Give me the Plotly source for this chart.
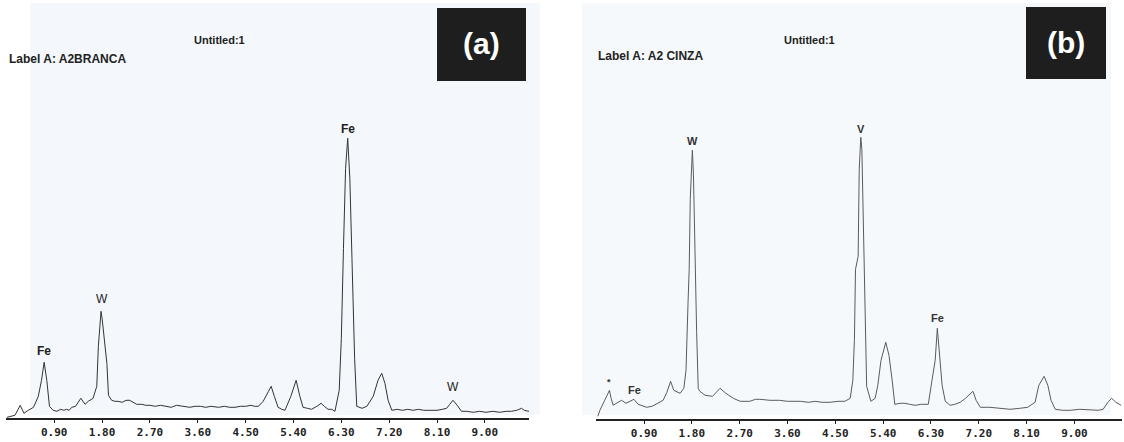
import plotly.graph_objects as go

# ---------------- data (energy keV, counts) ----------------
energy_a = [0.01, 0.16, 0.26, 0.33, 0.41, 0.51, 0.60, 0.66, 0.71, 0.76, 0.81, 0.88,
            0.95, 1.02, 1.08, 1.13, 1.18, 1.23, 1.30, 1.40, 1.48, 1.54, 1.63, 1.70,
            1.73, 1.76, 1.78, 1.80, 1.84, 1.89, 1.92, 1.98, 2.04, 2.10, 2.18, 2.25,
            2.32, 2.38, 2.45, 2.55, 2.62, 2.70, 2.80, 2.90, 3.00, 3.10, 3.20, 3.33,
            3.45, 3.55, 3.65, 3.75, 3.85, 3.99, 4.10, 4.20, 4.30, 4.40, 4.50, 4.60,
            4.67, 4.74, 4.83, 4.93, 4.98, 5.04, 5.11, 5.18, 5.24, 5.35, 5.45, 5.52,
            5.58, 5.66, 5.74, 5.84, 5.92, 5.98, 6.05, 6.12, 6.18, 6.26, 6.30, 6.34,
            6.38, 6.42, 6.46, 6.50, 6.55, 6.59, 6.69, 6.78, 6.90, 6.99, 7.06, 7.12,
            7.18, 7.25, 7.35, 7.45, 7.55, 7.65, 7.75, 7.85, 7.97, 8.10, 8.20, 8.28,
            8.34, 8.40, 8.48, 8.56, 8.66, 8.78, 8.90, 9.02, 9.15, 9.28, 9.40, 9.50,
            9.60, 9.65, 9.69, 9.74, 9.83]
counts_a = [1, 3, 13, 5, 8, 11, 22, 38, 56, 38, 12, 8,
            7, 9, 8, 9, 8, 11, 12, 20, 14, 17, 20, 32,
            72, 98, 107, 100, 78, 55, 23, 18, 17, 17, 16, 18,
            18, 16, 14, 14, 13, 13, 12, 13, 12, 11, 13, 12,
            11, 12, 12, 11, 12, 11, 12, 11, 11, 12, 12, 13,
            12, 12, 17, 27, 32, 22, 11, 9, 8, 22, 38, 22,
            11, 10, 9, 12, 15, 12, 9, 9, 7, 28, 80, 170,
            250, 280, 240, 160, 60, 12, 10, 12, 22, 38, 45, 35,
            18, 8, 9, 8, 9, 8, 9, 8, 8, 8, 9, 10,
            14, 18, 13, 7, 7, 6, 7, 6, 7, 6, 7, 7,
            8, 9, 10, 8, 7]

energy_b = [0.03, 0.07, 0.16, 0.25, 0.28, 0.32, 0.41, 0.48, 0.56, 0.64, 0.71, 0.79,
            0.95, 1.05, 1.16, 1.26, 1.33, 1.40, 1.46, 1.58, 1.65, 1.69, 1.73, 1.75,
            1.77, 1.80, 1.81, 1.83, 1.86, 1.89, 1.92, 1.95, 2.05, 2.19, 2.33, 2.44,
            2.58, 2.71, 2.89, 3.00, 3.08, 3.27, 3.45, 3.60, 3.84, 4.00, 4.12, 4.25,
            4.40, 4.55, 4.68, 4.78, 4.83, 4.86, 4.88, 4.93, 4.95, 4.98, 5.00, 5.03,
            5.07, 5.09, 5.17, 5.25, 5.30, 5.36, 5.45, 5.51, 5.57, 5.62, 5.72, 5.81,
            5.90, 6.00, 6.12, 6.25, 6.32, 6.38, 6.42, 6.47, 6.51, 6.57, 6.66, 6.75,
            6.85, 6.95, 7.09, 7.15, 7.23, 7.41, 7.60, 7.79, 7.97, 8.12, 8.26, 8.33,
            8.43, 8.50, 8.56, 8.64, 8.78, 8.92, 9.10, 9.30, 9.45, 9.54, 9.63, 9.70,
            9.78, 9.88]
counts_b = [3, 9, 19, 29, 21, 14, 17, 19, 16, 18, 20, 15,
            12, 13, 16, 19, 27, 38, 29, 26, 31, 49, 119, 150,
            220, 255, 269, 245, 160, 88, 31, 28, 24, 23, 31, 26,
            21, 18, 18, 20, 20, 19, 19, 18, 18, 17, 18, 17,
            17, 18, 18, 21, 39, 80, 150, 163, 250, 282, 270, 196,
            103, 33, 18, 21, 34, 59, 77, 64, 39, 15, 16, 16,
            15, 14, 15, 15, 39, 59, 91, 59, 34, 18, 14, 15,
            17, 21, 28, 19, 12, 12, 11, 10, 11, 12, 17, 34,
            43, 34, 19, 10, 9, 9, 10, 9, 9, 10, 17, 21,
            17, 14]

tick_vals = [0.9, 1.8, 2.7, 3.6, 4.5, 5.4, 6.3, 7.2, 8.1, 9.0]
tick_text = ["0.90", "1.80", "2.70", "3.60", "4.50", "5.40", "6.30", "7.20", "8.10", "9.00"]

peak_labels_a = [("Fe", 0.71, 58), ("W", 1.80, 110), ("Fe", 6.42, 280), ("W", 8.40, 22)]
peak_labels_b = [("*", 0.25, 30), ("Fe", 0.73, 21), ("W", 1.81, 270), ("V", 4.98, 282), ("Fe", 6.42, 93)]

W, H = 1124, 442


def px(x):
    return x / W


def py(y):
    return (H - y) / H


fig = go.Figure()
fig.add_trace(go.Scatter(x=energy_a, y=counts_a, mode="lines",
                         line=dict(color="#333333", width=1), xaxis="x", yaxis="y",
                         hoverinfo="skip", showlegend=False))
fig.add_trace(go.Scatter(x=energy_b, y=counts_b, mode="lines",
                         line=dict(color="#5a5a5a", width=1), xaxis="x2", yaxis="y2",
                         hoverinfo="skip", showlegend=False))

axis_common = dict(showgrid=False, zeroline=False, showline=True, linecolor="#222222",
                   linewidth=1.5, ticks="outside", ticklen=3, tickcolor="#222222",
                   tickvals=tick_vals, ticktext=tick_text, automargin=False,
                   tickfont=dict(family="DejaVu Sans Mono", size=11, color="#222222", weight="bold"),
                   fixedrange=True)
yaxis_common = dict(visible=False, range=[0, 300], fixedrange=True, automargin=False)

lbl_font = dict(family="Liberation Sans", size=12, color="#222")
annotations = []
for txt, e, h in peak_labels_a:
    annotations.append(dict(x=e, y=h, xref="x", yref="y", text="<b>" + txt + "</b>" if txt != "W" else txt,
                            showarrow=False, yanchor="bottom", font=lbl_font))
for txt, e, h in peak_labels_b:
    annotations.append(dict(x=e, y=h, xref="x2", yref="y2", text="<b>" + txt + "</b>", showarrow=False,
                            yanchor="bottom",
                            font=dict(family="Liberation Sans", size=11 if txt != "*" else 9, color="#333")))

hdr_font = dict(family="Liberation Sans", size=12, color="#222222")
annotations += [
    dict(x=px(219), y=py(40), xref="paper", yref="paper", text="<b>Untitled:1</b>", showarrow=False,
         font=dict(family="Liberation Sans", size=11, color="#222222"), xanchor="center", yanchor="middle"),
    dict(x=px(7), y=py(59), xref="paper", yref="paper", text="<b>Label A: A2BRANCA</b>", showarrow=False,
         font=hdr_font, xanchor="left", yanchor="middle"),
    dict(x=px(809), y=py(40), xref="paper", yref="paper", text="<b>Untitled:1</b>", showarrow=False,
         font=dict(family="Liberation Sans", size=11, color="#222222"), xanchor="center", yanchor="middle"),
    dict(x=px(596), y=py(56), xref="paper", yref="paper", text="<b>Label A: A2 CINZA</b>", showarrow=False,
         font=hdr_font, xanchor="left", yanchor="middle"),
    dict(x=px(481), y=py(44), xref="paper", yref="paper", text="<b>(a)</b>", showarrow=False,
         font=dict(family="Liberation Sans", size=30, color="white"), xanchor="center", yanchor="middle"),
    dict(x=px(1066), y=py(42), xref="paper", yref="paper", text="<b>(b)</b>", showarrow=False,
         font=dict(family="Liberation Sans", size=30, color="white"), xanchor="center", yanchor="middle"),
]

shapes = [
    dict(type="rect", xref="paper", yref="paper", x0=px(30), x1=px(540), y0=py(415), y1=py(3),
         fillcolor="#f4f8fc", line=dict(width=0), layer="below"),
    dict(type="rect", xref="paper", yref="paper", x0=px(582), x1=px(1111), y0=py(415), y1=py(3),
         fillcolor="#f6f9fc", line=dict(width=0), layer="below"),
    dict(type="rect", xref="paper", yref="paper", x0=px(437), x1=px(526), y0=py(81), y1=py(8),
         fillcolor="#1e1e1e", line=dict(width=0)),
    dict(type="rect", xref="paper", yref="paper", x0=px(1026), x1=px(1106), y0=py(79), y1=py(7),
         fillcolor="#1e1e1e", line=dict(width=0)),
]

fig.update_layout(
    width=W, height=H,
    margin=dict(l=0, r=0, t=0, b=0, autoexpand=False),
    paper_bgcolor="white", plot_bgcolor="rgba(0,0,0,0)",
    xaxis=dict(domain=[px(6.4), px(529)], range=[0, 9.83], anchor="y", **axis_common),
    yaxis=dict(domain=[py(418.3), py(118.3)], anchor="x", **yaxis_common),
    xaxis2=dict(domain=[px(596.2), px(1121.7)], range=[0, 9.89], anchor="y2", **axis_common),
    yaxis2=dict(domain=[py(419.3), py(119.3)], anchor="x2", **yaxis_common),
    annotations=annotations,
    shapes=shapes,
    showlegend=False,
)

fig.write_html("out.html", config={"displayModeBar": False},
               post_script="document.body.style.margin='0';document.body.style.overflow='hidden';")
